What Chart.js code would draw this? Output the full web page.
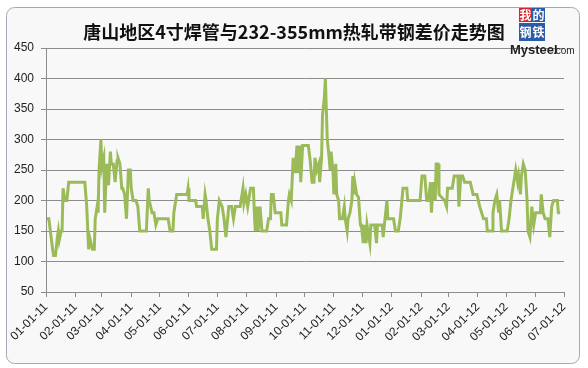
<!DOCTYPE html>
<html>
<head>
<meta charset="utf-8">
<script src="https://cdn.jsdelivr.net/npm/chart.js@4.4.1/dist/chart.umd.min.js"></script>
<style>
    html, body { margin: 0; padding: 0; background: #fff; }
    canvas { display: block; }
</style>
</head>
<body>
<canvas id="spreadChart" width="588" height="368"></canvas>
<script>
// 唐山地区4寸焊管与232-355mm热轧带钢差价 (元/吨)
const chartTitle = '唐山地区4寸焊管与232-355mm热轧带钢差价走势图';

// x tick labels (MM-DD-YY)
const tickLabels = ['01-01-11', '02-01-11', '03-01-11', '04-01-11', '05-01-11', '06-01-11',
    '07-01-11', '08-01-11', '09-01-11', '10-01-11', '11-01-11', '12-01-11',
    '01-01-12', '02-01-12', '03-01-12', '04-01-12', '05-01-12', '06-01-12', '07-01-12'];

// days since 2011-01-01
const dayOffsets = [
    1, 3, 5, 7, 8, 10, 12, 13, 14, 16,
    17, 18, 20, 22, 24, 41, 43, 45, 46, 49,
    51, 52, 54, 55, 56, 58, 59, 61, 62, 64,
    66, 68, 69, 71, 73, 75, 76, 78, 80, 81,
    83, 85, 87, 89, 90, 92, 95, 97, 99, 106,
    108, 109, 112, 114, 116, 118, 129, 131, 134, 135,
    138, 149, 150, 151, 158, 159, 165, 166, 168, 169,
    171, 173, 175, 180, 181, 183, 186, 188, 190, 193,
    196, 198, 200, 205, 208, 209, 211, 213, 216, 219,
    220, 221, 223, 224, 226, 228, 233, 235, 237, 238,
    240, 242, 248, 249, 254, 256, 257, 259, 261, 263,
    265, 266, 268, 269, 271, 275, 277, 279, 281, 283,
    284, 286, 288, 289, 291, 292, 294, 295, 296, 297,
    299, 300, 301, 303, 304, 306, 307, 309, 310, 313,
    315, 316, 318, 319, 321, 323, 324, 325, 326, 328,
    330, 332, 333, 335, 336, 338, 339, 342, 343, 347,
    349, 350, 355, 356, 358, 360, 361, 367, 369, 372,
    374, 377, 381, 382, 395, 397, 400, 402, 404, 406,
    407, 409, 411, 412, 414, 415, 418, 421, 423, 424,
    429, 431, 435, 436, 438, 440, 442, 448, 451, 455,
    458, 462, 465, 466, 471, 472, 474, 476, 478, 479,
    481, 487, 489, 491, 493, 495, 496, 498, 499, 501,
    502, 504, 506, 508, 509, 511, 513, 515, 517, 522,
    523, 525, 527, 530, 532, 534, 536, 540, 541, 543
];

const spreadValues = [
    170, 170, 145, 120, 110, 110, 140, 150, 135, 150,
    150, 220, 200, 200, 230, 230, 190, 120, 140, 120,
    120, 170, 190, 180, 250, 300, 255, 270, 180, 260,
    225, 280, 260, 260, 230, 265, 270, 260, 220, 220,
    210, 170, 250, 250, 220, 200, 200, 190, 150, 150,
    220, 200, 180, 180, 160, 170, 170, 150, 150, 180,
    210, 210, 220, 200, 200, 190, 190, 170, 210, 200,
    170, 150, 120, 120, 170, 200, 190, 170, 140, 190,
    190, 170, 190, 190, 220, 195, 210, 190, 220, 220,
    180, 150, 190, 150, 190, 150, 150, 170, 170, 210,
    210, 180, 180, 160, 160, 200, 210, 200, 270, 245,
    290, 245, 290, 230, 290, 290, 290, 265, 230, 230,
    270, 250, 260, 230, 270, 340, 370, 400, 350, 300,
    270, 250, 280, 250, 210, 260, 210, 200, 170, 170,
    190, 170, 150, 170, 180, 200, 240, 210, 230, 210,
    205, 160, 160, 130, 160, 130, 160, 130, 160, 160,
    130, 160, 160, 140, 170, 200, 170, 170, 150, 150,
    170, 220, 220, 200, 200, 240, 240, 200, 200, 230,
    180, 230, 200, 260, 260, 210, 205, 200, 190, 220,
    220, 240, 240, 190, 240, 240, 230, 230, 210, 210,
    190, 170, 170, 150, 150, 180, 200, 210, 180, 200,
    150, 150, 170, 200, 220, 240, 250, 230, 240, 210,
    240, 260, 250, 200, 150, 140, 190, 160, 180, 180,
    210, 180, 170, 170, 140, 190, 200, 200, 180, 180
];

const DAY_MS = 24 * 3600 * 1000;
const startDate = Date.UTC(2011, 0, 1);

function labelToDay(label) {
    const [mm, dd, yy] = label.split('-').map(Number);
    return Math.round((Date.UTC(2000 + yy, mm - 1, dd) - startDate) / DAY_MS);
}

const tickDays = tickLabels.map(labelToDay);

// background frame, title and logo
const decorPlugin = {
    id: 'decor',
    beforeDraw(chart) {
        const ctx = chart.ctx;
        ctx.save();
        ctx.fillStyle = '#ffffff';
        ctx.fillRect(0, 0, chart.width, chart.height);
        ctx.beginPath();
        ctx.roundRect(6.5, 7.5, 573, 356, 8);
        ctx.fillStyle = '#f8f8f8';
        ctx.fill();
        ctx.strokeStyle = '#a3aab3';
        ctx.lineWidth = 1;
        ctx.stroke();
        ctx.restore();
    },
    afterDraw(chart) {
        const ctx = chart.ctx;
        ctx.save();
        ctx.fillStyle = '#111';
        ctx.font = 'bold 18px "Noto Sans CJK SC"';
        ctx.textAlign = 'center';
        ctx.textBaseline = 'middle';
        ctx.fillText(chartTitle, 294, 32);

        // Mysteel logo
        ctx.font = 'bold 12px "Noto Sans CJK SC"';
        ctx.fillStyle = '#d7262b';
        ctx.fillRect(519, 8, 13, 14);
        ctx.fillStyle = '#2c5ca8';
        ctx.fillRect(532, 8, 13, 14);
        ctx.fillRect(519, 23, 26, 18);
        ctx.fillStyle = '#fff';
        ctx.fillText('我', 525.5, 15);
        ctx.fillText('的', 538.5, 15);
        ctx.fillText('钢', 525.5, 32);
        ctx.fillText('铁', 538.5, 32);
        ctx.fillStyle = '#222';
        ctx.textAlign = 'left';
        ctx.font = 'bold 13px "Liberation Sans Narrow", "Liberation Sans"';
        ctx.fillText('Mysteel', 510, 50);
        ctx.font = '10px "Liberation Sans"';
        ctx.fillText('.com', 553, 51);
        ctx.restore();
    }
};

new Chart(document.getElementById('spreadChart'), {
    type: 'line',
    data: {
        datasets: [{
            label: '差价',
            data: dayOffsets.map((d, i) => ({ x: d, y: spreadValues[i] })),
            borderColor: '#9bbb59',
            borderWidth: 3,
            pointRadius: 0,
            tension: 0,
            fill: false
        }]
    },
    options: {
        responsive: false,
        animation: false,
        layout: {
            padding: { left: 0, top: 48, right: 24, bottom: 0 }
        },
        plugins: {
            legend: { display: false },
            tooltip: { enabled: false }
        },
        scales: {
            x: {
                type: 'linear',
                min: 0,
                max: tickDays[tickDays.length - 1],
                afterBuildTicks: scale => {
                    scale.ticks = tickDays.map(v => ({ value: v }));
                },
                afterFit: scale => { scale.height = 76; },
                ticks: {
                    autoSkip: false,
                    minRotation: 45,
                    maxRotation: 45,
                    color: '#222',
                    font: { family: 'Liberation Sans', size: 12 },
                    padding: 3,
                    callback: value => tickLabels[tickDays.indexOf(value)]
                },
                grid: {
                    drawOnChartArea: false,
                    drawTicks: true,
                    tickLength: 5,
                    color: '#8c8c8c'
                },
                border: { color: '#8c8c8c' }
            },
            y: {
                min: 50,
                max: 450,
                afterFit: scale => { scale.width = 46; },
                ticks: {
                    stepSize: 50,
                    color: '#222',
                    font: { family: 'Liberation Sans', size: 12 },
                    padding: 7
                },
                grid: {
                    color: '#8c8c8c',
                    tickLength: 5
                },
                border: { color: '#8c8c8c' }
            }
        }
    },
    plugins: [decorPlugin]
});
</script>
</body>
</html>
